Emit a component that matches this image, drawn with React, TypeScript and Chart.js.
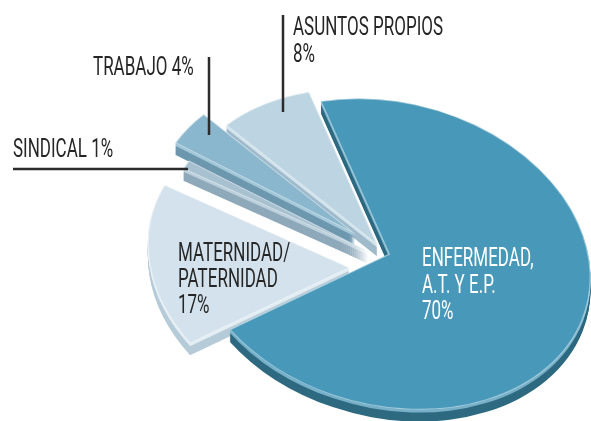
import React, { useEffect, useRef } from "react";
import { Chart, registerables } from "chart.js";

Chart.register(...registerables);

// ---- data ----
const categories = ["ENFERMEDAD, A.T. Y E.P.", "MATERNIDAD/PATERNIDAD", "SINDICAL", "TRABAJO", "ASUNTOS PROPIOS"];
const shares = [70, 17, 1, 4, 8];

// ---- style ----
const topColors = ["#4898b9", "#d3e2ec", "#a8c1d1", "#8ab7cd", "#bdd5e2"];
const rimColors = ["#78b0c9", "#e2edf3", "#bcd0dc", "#a3c7d8", "#d0e2eb"];
const sideColors = ["#2e6a80", "#b6cbd8", "#8ea9ba", "#6d98ae", "#9fbacb"];
const explode = [0, 47, 21, 41, 16];
const explodeTurn = [0, -24, -25, -2, -14];
const drawOrder = [4, 3, 2, 1, 0];
const ROTATION = -31;
const RADIUS = 205;
const TILT = 0.74;
const SPIN = 15; // degrees, in-plane turn of the projected ellipse
const CX = 389;
const CY = 254;
const DEPTH = 12;
const RIM = 3;

const FONT = '25px Roboto, "Liberation Sans", sans-serif';
const SQUEEZE = 0.68;
const TEXT_DARK = "#262626";

type Label = { lines: string[]; x: number; baseline: number; step: number; color: string };
const labels: Label[] = [
  { lines: ["ENFERMEDAD,", "A.T. Y E.P.", `${shares[0]}%`], x: 422, baseline: 266, step: 26.5, color: "#ffffff" },
  { lines: ["MATERNIDAD/", "PATERNIDAD", `${shares[1]}%`], x: 178, baseline: 261, step: 26, color: TEXT_DARK },
  { lines: [`SINDICAL ${shares[2]}%`], x: 13, baseline: 157, step: 26, color: TEXT_DARK },
  { lines: [`TRABAJO ${shares[3]}%`], x: 93, baseline: 75, step: 26, color: TEXT_DARK },
  { lines: ["ASUNTOS PROPIOS", `${shares[4]}%`], x: 293, baseline: 35, step: 27, color: TEXT_DARK },
];
const leaders = [
  { x1: 283, y1: 15, x2: 283, y2: 112 },
  { x1: 209, y1: 57, x2: 209, y2: 135 },
  { x1: 13, y1: 169, x2: 188, y2: 169 },
];

const pie3d = {
  id: "pie3d",
  beforeDatasetsDraw(chart: any) {
    const ctx: CanvasRenderingContext2D = chart.ctx;
    const arcs = chart.getDatasetMeta(0).data;
    const spin = (SPIN * Math.PI) / 180;
    for (const i of drawOrder) {
      const arc = arcs[i];
      if (!arc) continue;
      const base = arc.options;
      const dir = (arc.startAngle + arc.endAngle) / 2 + (explodeTurn[i] * Math.PI) / 180;
      const dx = Math.cos(dir) * explode[i];
      const dy = Math.sin(dir) * explode[i];
      const place = (shift: number) => {
        ctx.translate(CX, CY + shift);
        ctx.rotate(spin);
        ctx.scale(1, TILT);
        ctx.translate(dx - arc.x, dy - arc.y);
      };
      for (let d = DEPTH; d >= 1; d--) {
        ctx.save();
        place(d);
        arc.options = { ...base, backgroundColor: d <= RIM ? rimColors[i] : sideColors[i], borderWidth: 0 };
        arc.draw(ctx);
        ctx.restore();
      }
      arc.options = base;
      ctx.save();
      place(0);
      arc.draw(ctx);
      ctx.restore();
    }
    return false;
  },
};

const labelPlugin = {
  id: "pieLabels",
  afterDraw(chart: any) {
    const ctx: CanvasRenderingContext2D = chart.ctx;
    ctx.save();
    ctx.strokeStyle = "#2b2b2b";
    ctx.lineWidth = 2.5;
    for (const l of leaders) {
      ctx.beginPath();
      ctx.moveTo(l.x1, l.y1);
      ctx.lineTo(l.x2, l.y2);
      ctx.stroke();
    }
    ctx.font = FONT;
    ctx.textBaseline = "alphabetic";
    ctx.textAlign = "left";
    for (const lab of labels) {
      ctx.fillStyle = lab.color;
      lab.lines.forEach((t, k) => {
        ctx.save();
        ctx.translate(lab.x, lab.baseline + k * lab.step);
        ctx.scale(SQUEEZE, 1);
        ctx.fillText(t, 0, 0);
        ctx.restore();
      });
    }
    ctx.restore();
  },
};

export default function App() {
  const ref = useRef<HTMLCanvasElement>(null);
  useEffect(() => {
    const canvas = ref.current;
    if (!canvas) return;
    const chart = new Chart(canvas, {
      type: "pie",
      data: {
        labels: categories,
        datasets: [
          {
            data: shares,
            backgroundColor: topColors,
            borderColor: "rgba(255,255,255,0.45)",
            borderWidth: 1,
            borderAlign: "inner",
            offset: 0,
            hoverOffset: 0,
            radius: RADIUS,
          } as any,
        ],
      },
      options: {
        responsive: false,
        animation: false,
        rotation: ROTATION,
        radius: RADIUS,
        events: [],
        layout: { padding: 0 },
        plugins: { legend: { display: false }, tooltip: { enabled: false } },
      } as any,
      plugins: [pie3d, labelPlugin],
    });
    return () => chart.destroy();
  }, []);
  return (
    <canvas
      ref={ref}
      width={591}
      height={421}
      style={{ position: "fixed", left: 0, top: 0, width: 591, height: 421, background: "#ffffff" }}
    />
  );
}
